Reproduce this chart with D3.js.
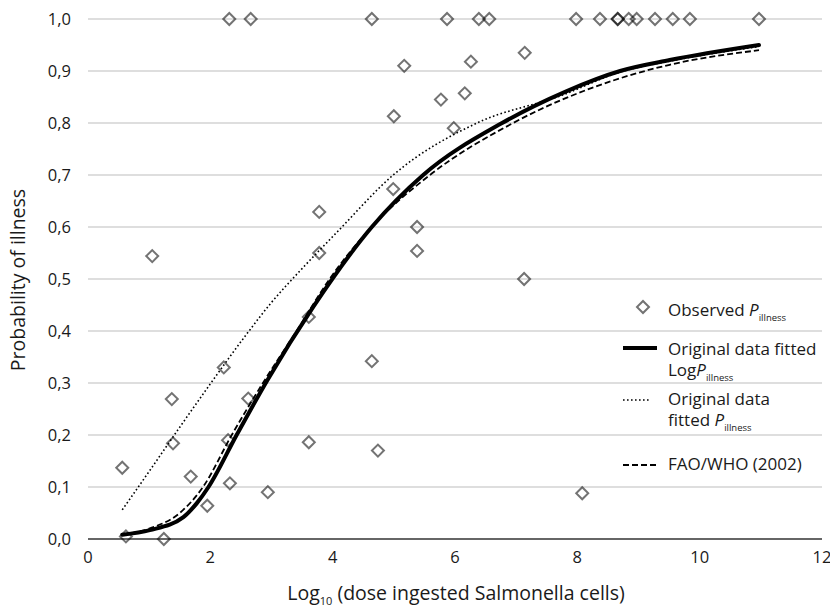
<!DOCTYPE html>
<html>
<head>
<meta charset="utf-8">
<script src="https://cdn.jsdelivr.net/npm/d3@7"></script>
<style>
  body { margin: 0; background: #fff; }
  svg text { font-family: "Open Sans", "DejaVu Sans", sans-serif; fill: #1a1a1a; }
</style>
</head>
<body>
<svg width="830" height="607"></svg>
<script>
// Observed points: log10 dose and probability of illness
const obsDose = [2.31, 2.66, 4.64, 5.87, 6.39, 6.56, 7.98, 8.37, 8.66, 8.66, 8.84, 8.97, 9.27, 9.56, 9.84, 10.97,
  5.17, 5.00, 4.99, 3.78, 3.78, 1.05, 5.38, 5.38, 7.13, 7.14, 6.26, 5.77, 6.16, 5.98, 8.08,
  0.56, 0.62, 1.24, 1.37, 1.39, 1.68, 1.95, 2.22, 2.29, 2.32, 2.62, 2.94, 3.61, 3.61, 4.64, 4.74];
const obsP = [1, 1, 1, 1, 1, 1, 1, 1, 1, 1, 1, 1, 1, 1, 1, 1,
  0.91, 0.813, 0.673, 0.629, 0.55, 0.544, 0.60, 0.554, 0.50, 0.935, 0.918, 0.845, 0.857, 0.79, 0.088,
  0.137, 0.005, 0.0, 0.269, 0.184, 0.12, 0.064, 0.330, 0.19, 0.107, 0.27, 0.09, 0.427, 0.186, 0.342, 0.17];

// Original data fitted LogP (solid)
const logFitX = [0.56, 1.01, 1.56, 1.78, 1.97, 2.43, 2.93, 3.68, 4.64, 5.48, 6.77, 7.80, 8.70, 9.51, 10.97];
const logFitY = [0.008, 0.017, 0.042, 0.069, 0.10, 0.20, 0.305, 0.446, 0.60, 0.70, 0.80, 0.86, 0.90, 0.921, 0.950];

// Original data fitted P (dotted)
const pFitX = [0.56, 1.00, 1.50, 2.04, 2.60, 3.00, 3.50, 4.07, 4.99, 6.36, 7.72, 8.70, 9.51, 10.97];
const pFitY = [0.056, 0.13, 0.215, 0.305, 0.395, 0.455, 0.52, 0.59, 0.70, 0.80, 0.852, 0.898, 0.919, 0.947];

// FAO/WHO (2002) (dashed)
const faoX = [0.56, 1.00, 1.50, 1.88, 2.35, 2.86, 3.41, 3.95, 4.62, 5.59, 6.95, 8.70, 9.51, 10.97];
const faoY = [0.008, 0.020, 0.050, 0.10, 0.20, 0.30, 0.40, 0.50, 0.598, 0.70, 0.80, 0.886, 0.912, 0.940];

const xTicks = [0, 2, 4, 6, 8, 10, 12];
const yTicks = [0, 0.1, 0.2, 0.3, 0.4, 0.5, 0.6, 0.7, 0.8, 0.9, 1.0];

const svg = d3.select("svg");
const x = d3.scaleLinear().domain([0, 12]).range([88, 822]);
const y = d3.scaleLinear().domain([0, 1]).range([539, 19]);
const fmt = d => d3.format(".1f")(d).replace(".", ",");

// gridlines
svg.append("g")
  .selectAll("line")
  .data(yTicks.filter(d => d > 0))
  .join("line")
  .attr("x1", x(0)).attr("x2", x(12))
  .attr("y1", d => y(d)).attr("y2", d => y(d))
  .attr("stroke", "#bdbdbd").attr("stroke-width", 1);

// x axis line
svg.append("line")
  .attr("x1", x(0)).attr("x2", x(12))
  .attr("y1", y(0)).attr("y2", y(0))
  .attr("stroke", "#333").attr("stroke-width", 1.5);

// y tick labels
svg.append("g")
  .selectAll("text")
  .data(yTicks)
  .join("text")
  .attr("x", 71)
  .attr("y", d => y(d) + 6)
  .attr("text-anchor", "end")
  .attr("font-size", 16.5)
  .text(fmt);

// x tick labels
svg.append("g")
  .selectAll("text")
  .data(xTicks)
  .join("text")
  .attr("x", d => x(d))
  .attr("y", 563)
  .attr("text-anchor", "middle")
  .attr("font-size", 16.5)
  .text(d => d);

// axis titles
const xt = svg.append("text")
  .attr("x", 456).attr("y", 600)
  .attr("text-anchor", "middle")
  .attr("font-size", 19.5);
xt.append("tspan").text("Log");
xt.append("tspan").attr("font-size", 11).attr("dy", 5).text("10");
xt.append("tspan").attr("dy", -5).text(" (dose ingested Salmonella cells)");

svg.append("text")
  .attr("transform", "translate(25,280) rotate(-90)")
  .attr("text-anchor", "middle")
  .attr("font-size", 19.5)
  .text("Probability of illness");

// observed points
const diamond = d3.symbol().type(d3.symbolSquare).size(72);
svg.append("g")
  .selectAll("path")
  .data(obsDose.map((d, i) => [d, obsP[i]]))
  .join("path")
  .attr("d", diamond)
  .attr("transform", d => `translate(${x(d[0])},${y(d[1])}) rotate(45)`)
  .attr("fill", "none")
  .attr("stroke", "#000")
  .attr("stroke-opacity", 0.55)
  .attr("stroke-width", 2);

// fitted curves
const line = d3.line().x(d => x(d[0])).y(d => y(d[1])).curve(d3.curveMonotoneX);
const zip = (a, b) => a.map((v, i) => [v, b[i]]);

svg.append("path")
  .attr("d", line(zip(pFitX, pFitY)))
  .attr("fill", "none").attr("stroke", "#000")
  .attr("stroke-width", 1.6).attr("stroke-dasharray", "1.6,2.4");

svg.append("path")
  .attr("d", line(zip(faoX, faoY)))
  .attr("fill", "none").attr("stroke", "#000")
  .attr("stroke-width", 1.8).attr("stroke-dasharray", "6,3");

svg.append("path")
  .attr("d", line(zip(logFitX, logFitY)))
  .attr("fill", "none").attr("stroke", "#000")
  .attr("stroke-width", 4).attr("stroke-linecap", "round");

// legend
const lg = svg.append("g");
lg.append("path")
  .attr("d", diamond)
  .attr("transform", "translate(643,307) rotate(45)")
  .attr("fill", "none").attr("stroke", "#000")
  .attr("stroke-opacity", 0.55).attr("stroke-width", 2);

function labelP(g, xx, yy, before) {
  const t = g.append("text").attr("x", xx).attr("y", yy).attr("font-size", 17);
  t.append("tspan").text(before);
  t.append("tspan").attr("font-style", "italic").text("P");
  t.append("tspan").attr("font-size", 9.5).attr("dy", 5).text("illness");
}

labelP(lg, 668, 316, "Observed ");

lg.append("line").attr("x1", 623).attr("x2", 657).attr("y1", 348).attr("y2", 348)
  .attr("stroke", "#000").attr("stroke-width", 4);
lg.append("text").attr("x", 668).attr("y", 355).attr("font-size", 17).text("Original data fitted");
labelP(lg, 668, 376, "Log");

lg.append("line").attr("x1", 623).attr("x2", 649).attr("y1", 400).attr("y2", 400)
  .attr("stroke", "#000").attr("stroke-width", 1.6).attr("stroke-dasharray", "1.6,2.4");
lg.append("text").attr("x", 668).attr("y", 405).attr("font-size", 17).text("Original data");
labelP(lg, 668, 426, "fitted ");

lg.append("line").attr("x1", 623).attr("x2", 656).attr("y1", 465).attr("y2", 465)
  .attr("stroke", "#000").attr("stroke-width", 1.8).attr("stroke-dasharray", "6,3");
lg.append("text").attr("x", 668).attr("y", 470).attr("font-size", 17).text("FAO/WHO (2002)");
</script>
</body>
</html>
